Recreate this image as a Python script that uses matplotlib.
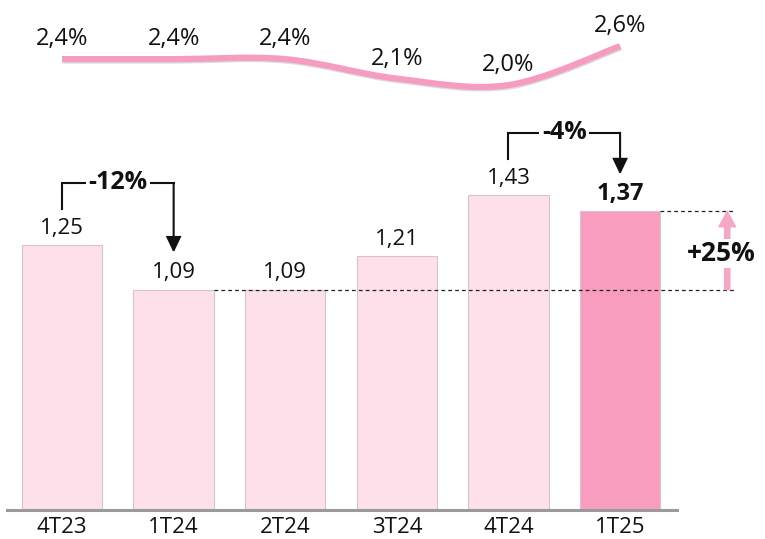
import matplotlib
matplotlib.use("Agg")
import matplotlib.pyplot as plt
from matplotlib.path import Path
from matplotlib.patches import PathPatch, FancyArrowPatch
import matplotlib.patheffects as pe
import numpy as np

# ---------------- data ----------------
categories = ["4T23", "1T24", "2T24", "3T24", "4T24", "1T25"]
values = [1.25, 1.09, 1.09, 1.21, 1.43, 1.37]
value_labels = ["1,25", "1,09", "1,09", "1,21", "1,43", "1,37"]
rates = [2.4, 2.4, 2.4, 2.1, 2.0, 2.6]
rate_labels = ["2,4%", "2,4%", "2,4%", "2,1%", "2,0%", "2,6%"]
change_pairs = [(0, 1), (4, 5)]
change_labels = ["-12%", "-4%"]
growth_pair = (1, 5)
growth_label = "+25%"

# ---------------- style ----------------
plt.rcParams['font.family'] = ['Open Sans', 'DejaVu Sans']
LIGHT = '#fde0ea'
DARK = '#f99dc0'
EDGE = '#d6c4cb'
LINE = '#f59cc0'
ARROW = '#f5a8c6'
INK = '#111111'

W, H = 765, 539
fig = plt.figure(figsize=(W / 100, H / 100), dpi=100)
pos = [7 / W, (H - 510) / H, 670 / W, 510 / H]
ax = fig.add_axes(pos)
XLIM = (-0.493, 5.51)
YLIM = (0.30, 2.128)
ax.set_xlim(*XLIM)
ax.set_ylim(*YLIM)
dy = (YLIM[1] - YLIM[0]) / 510.0  # data units per pixel

x = np.arange(len(categories))
colors = [LIGHT] * (len(categories) - 1) + [DARK]
ax.bar(x, values, width=0.72, color=colors, edgecolor=EDGE, linewidth=0.8, zorder=2)

for i, (v, lab) in enumerate(zip(values, value_labels)):
    last = i == len(values) - 1
    ax.annotate(lab, (i, v), xytext=(0, 8), textcoords='offset points',
                ha='center', va='baseline', fontsize=17 if last else 16,
                fontweight='bold' if last else 'normal', color=INK, zorder=5)

# brackets with change labels
for (a, b), lab in zip(change_pairs, change_labels):
    y_bot = values[a] + 36 * dy
    y_top = values[a] + 62 * dy
    y_tip = values[b] + 37 * dy
    ax.plot([a, a, b], [y_bot, y_top, y_top], color=INK, lw=1.5,
            solid_joinstyle='miter', clip_on=False, zorder=4)
    arr = FancyArrowPatch((b, y_top), (b, y_tip),
                          arrowstyle='-|>,head_length=0.95,head_width=0.45',
                          mutation_scale=10, color=INK, lw=1.5,
                          shrinkA=0, shrinkB=0, joinstyle='miter', zorder=4,
                          clip_on=False)
    ax.add_patch(arr)
    ax.text((a + b) / 2, y_top, lab, ha='center', va='center', fontsize=18,
            fontweight='bold', color=INK, zorder=6,
            bbox=dict(facecolor='white', edgecolor='none', pad=2.0))

# dashed reference lines
x_end = 6.03
a, b = growth_pair
ax.plot([a + 0.36, x_end], [values[a], values[a]], ls=(0, (3, 2.5)), color='#222222',
        lw=0.9, clip_on=False, zorder=3)
ax.plot([b + 0.36, x_end], [values[b], values[b]], ls=(0, (3, 2.5)), color='#222222',
        lw=0.9, clip_on=False, zorder=3)

# growth arrow
gx = 5.96
garr = FancyArrowPatch((gx, values[a]), (gx, values[b]),
                       arrowstyle='simple,head_length=1.1,head_width=1.2,tail_width=0.38',
                       mutation_scale=10, color=ARROW, shrinkA=0, shrinkB=0,
                       zorder=3, clip_on=False)
ax.add_patch(garr)
ax.text(5.91, (values[a] + values[b]) / 2 - 0.01, growth_label, ha='center', va='center',
        fontsize=19, fontweight='bold', color=INK, zorder=6,
        bbox=dict(facecolor='white', edgecolor='none', pad=1.0))

# axes styling
for s in ['top', 'right', 'left']:
    ax.spines[s].set_visible(False)
ax.spines['bottom'].set_color('#9a9a9a')
ax.spines['bottom'].set_linewidth(2.2)
ax.set_yticks([])
ax.set_xticks(x)
ax.set_xticklabels(categories, fontsize=16, color=INK)
ax.tick_params(axis='x', length=0, pad=5)

# ---------------- rate line ----------------
ax2 = fig.add_axes(pos, frameon=False)
ax2.set_xlim(*XLIM)
ax2.set_ylim(-4.54, 3.31)
ax2.axis('off')

pts = np.column_stack([x, rates]).astype(float)
verts = [pts[0]]
codes = [Path.MOVETO]
n = len(pts)
for i in range(n - 1):
    p0 = pts[i - 1] if i > 0 else pts[i]
    p1 = pts[i]
    p2 = pts[i + 1]
    p3 = pts[i + 2] if i + 2 < n else pts[i + 1]
    c1 = p1 + (p2 - p0) / 6.0
    c2 = p2 - (p3 - p1) / 6.0
    verts += [c1, c2, p2]
    codes += [Path.CURVE4] * 3
path = Path(verts, codes)
patch = PathPatch(path, facecolor='none', edgecolor=LINE, lw=4.5, capstyle='butt',
                  path_effects=[pe.SimpleLineShadow(offset=(0.6, -1.0), shadow_color='#888888', alpha=0.3),
                                pe.Normal()])
ax2.add_patch(patch)

for i, (r, lab) in enumerate(zip(rates, rate_labels)):
    ax2.annotate(lab, (i, r), xytext=(0, 10), textcoords='offset points',
                 ha='center', va='baseline', fontsize=17, color=INK)

fig.savefig('out.png', dpi=100)
